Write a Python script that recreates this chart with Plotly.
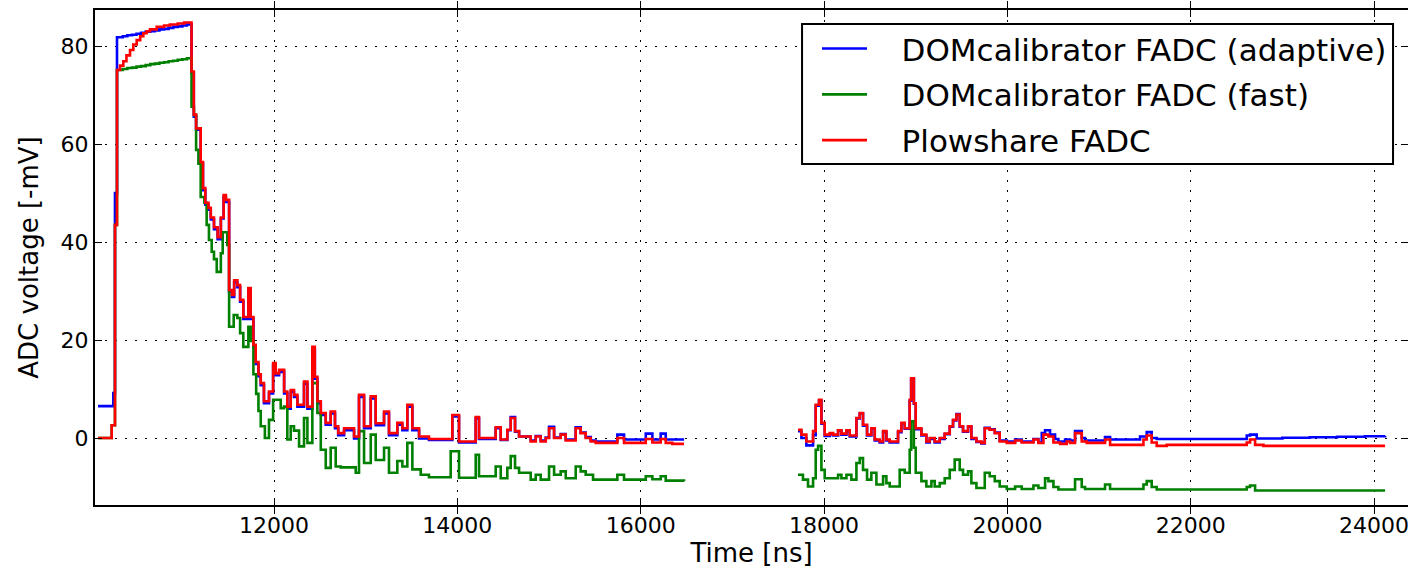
import plotly.graph_objects as go

# ---------------- data (Time [ns], ADC voltage [-mV]) ----------------
# Plowshare FADC, first readout window
RED1_T = [10080, 10229, 10265, 10287, 10320, 10356, 10390, 10429, 10465, 10502, 10540, 10574, 10610, 10647,
          10720, 10800, 10865, 10950, 11020, 11100, 11125, 11150, 11200, 11225, 11250, 11285, 11310, 11345,
          11385, 11420, 11450, 11475, 11510, 11540, 11565, 11600, 11630, 11665, 11720, 11745, 11775, 11800,
          11830, 11855, 11890, 11945, 11990, 12018, 12055, 12110, 12145, 12182, 12218, 12255, 12327, 12364,
          12418, 12445, 12473, 12510, 12564, 12618, 12665, 12700, 12764, 12873, 12927, 12982, 13055, 13109,
          13200, 13254, 13345, 13400, 13454, 13509, 13582, 13690, 13945, 14018, 14200, 14236, 14418, 14473,
          14545, 14582, 14629, 14673, 14800, 14855, 14909, 14964, 15000, 15055, 15127, 15182, 15291, 15345,
          15400, 15455, 15509, 15745, 15818, 16055, 16127, 16218, 16273, 16345, 16473]
RED1_V = [0.0, 2.6, 43.5, 75.1, 76.0, 76.9, 78.1, 79.2, 80.3, 81.2, 82.0, 82.6, 83.0, 83.4,
          83.9, 84.2, 84.4, 84.6, 84.8, 74.8, 66.0, 63.2, 56.3, 51.0, 48.0, 47.0, 45.0, 43.0,
          41.0, 45.0, 49.6, 48.6, 30.2, 29.2, 32.2, 31.2, 28.2, 24.7, 30.6, 24.7, 19.0, 15.5,
          13.0, 11.2, 7.5, 9.5, 15.3, 13.2, 13.9, 9.5, 6.4, 9.8, 8.8, 6.8, 11.5, 6.4,
          18.6, 12.5, 7.5, 5.1, 3.1, 5.4, 2.4, 1.0, 2.0, 0.3, 8.8, 2.4, 8.5, 3.0,
          5.4, 1.0, 3.1, 2.0, 6.8, 2.0, 0.3, -0.2, 4.7, -0.7, 4.3, 0.0, 2.2, -0.3,
          1.7, 4.1, 1.4, 0.3, -0.7, 0.3, -0.7, 0.0, 2.0, 0.0, 0.7, -0.5, 2.0, 1.0,
          0.0, -0.7, -1.0, 0.0, -1.0, -0.2, -0.9, -0.2, -1.0, -1.2, -1.2]

# Plowshare FADC, second readout window
RED2_T = [17716, 17753, 17807, 17880, 17909, 17945, 17971, 18007, 18062, 18098, 18153, 18189, 18244, 18280,
          18353, 18389, 18425, 18469, 18516, 18553, 18607, 18644, 18680, 18716, 18807, 18844, 18880, 18934,
          18950, 18980, 19000, 19062, 19116, 19153, 19207, 19262, 19316, 19371, 19407, 19444, 19480, 19516,
          19571, 19607, 19662, 19716, 19753, 19807, 19862, 19916, 19993, 20084, 20156, 20284, 20338, 20393,
          20447, 20502, 20575, 20647, 20684, 20738, 20811, 20865, 21065, 21120, 21484, 21520, 21574, 21629,
          21738, 22611, 22647, 22702, 22793, 24120]
RED2_V = [1.7, 0.7, -0.7, 1.4, 6.8, 7.8, 3.1, 0.7, 1.0, 0.7, 1.6, 0.9, 1.6, 0.5,
          4.1, 5.1, 2.7, 0.7, 2.0, -0.3, -0.7, 1.4, -0.3, -0.7, 1.4, 3.1, 2.0, 7.8,
          12.2, 7.1, 2.0, 0.7, -0.7, 0.0, -0.7, 0.0, 0.9, 2.4, 3.7, 4.8, 2.4, 1.4,
          2.4, 0.0, -0.7, -1.0, 2.0, 1.7, 1.0, -0.7, -1.0, -0.5, -0.9, -0.3, -1.0, 0.7,
          0.3, -0.9, -1.2, -0.7, -1.0, 1.0, -0.7, -1.0, -0.3, -1.4, -0.3, 0.5, -0.9, -1.6,
          -1.4, -0.9, -0.3, -1.4, -1.6, -1.6]

# DOMcalibrator FADC (adaptive)
BLUE1_T = [10080, 10247, 10265, 10287, 10350, 10400, 10450, 10500, 10550, 10600, 10650, 10700, 10750, 10800,
           10850, 10900, 10950, 11000, 11050,
           11100, 11125, 11150, 11200, 11225, 11250, 11285, 11310, 11345,
           11385, 11420, 11450, 11475, 11510, 11540, 11565, 11600, 11630, 11665, 11720, 11745, 11775, 11800,
           11830, 11855, 11890, 11945, 11990, 12018, 12055, 12110, 12145, 12182, 12218, 12255, 12327, 12364,
           12418, 12445, 12473, 12510, 12564, 12618, 12665, 12700, 12764, 12873, 12927, 12982, 13055, 13109,
           13200, 13254, 13345, 13400, 13454, 13509, 13582, 13690, 13945, 14018, 14200, 14236, 14418, 14473,
           14545, 14582, 14629, 14673, 14800, 14855, 14909, 14964, 15000, 15055, 15127, 15182, 15291, 15345,
           15400, 15455, 15509, 15745, 15818, 16055, 16127, 16218, 16273, 16345, 16473]
BLUE1_V = [6.5, 9.2, 50.0, 81.8, 82.0, 82.2, 82.3, 82.5, 82.7, 82.9, 83.0, 83.2, 83.4, 83.5,
           83.7, 83.9, 84.0, 84.2, 84.4,
           74.6, 65.6, 62.9, 56.0, 50.6, 47.6, 46.6, 44.6, 42.6,
           40.6, 44.8, 49.2, 48.2, 29.8, 28.8, 31.8, 30.8, 27.8, 24.3, 30.2, 24.3, 18.6, 15.1,
           12.6, 10.8, 7.1, 9.1, 14.9, 12.8, 13.5, 9.1, 6.0, 9.4, 8.4, 6.4, 11.1, 6.0,
           18.0, 12.1, 7.1, 4.7, 2.7, 5.0, 2.0, 0.6, 1.6, -0.1, 8.4, 2.0, 8.1, 2.6,
           5.0, 0.6, 2.7, 1.6, 6.4, 1.6, -0.1, -0.4, 4.4, -0.9, 4.0, -0.2, 2.0, -0.4,
           1.6, 4.3, 1.3, 0.3, -0.5, 0.4, -0.5, 0.1, 2.3, 0.1, 0.8, -0.3, 2.2, 1.1,
           0.2, -0.5, -0.7, 0.7, -0.3, 0.9, -0.3, 0.9, -0.3, -0.3, -0.3]

BLUE2_T = [17716, 17753, 17807, 17880, 17909, 17945, 17971, 18007, 18062, 18098, 18153, 18189, 18244, 18280,
           18353, 18389, 18425, 18469, 18516, 18553, 18607, 18644, 18680, 18716, 18807, 18844, 18880, 18934,
           18950, 18980, 19000, 19062, 19116, 19153, 19207, 19262, 19316, 19371, 19407, 19444, 19480, 19516,
           19571, 19607, 19662, 19716, 19753, 19807, 19862, 19916, 19993, 20084, 20156, 20284, 20338, 20375,
           20411, 20465, 20520, 20556, 20629, 20684, 20738, 20811, 20847, 21065, 21120, 21447, 21520, 21574,
           21629, 22611, 22647, 22720, 23000, 23300, 23600, 23900, 24120]
BLUE2_V = [1.4, 0.0, -1.5, 0.6, 6.6, 7.6, 2.9, 0.4, 0.8, 0.5, 1.5, 0.7, 1.4, 0.3,
           4.0, 5.0, 2.5, 0.5, 1.9, -0.5, -0.9, 1.2, -0.5, -0.9, 1.2, 3.0, 1.9, 7.6,
           12.0, 7.0, 1.8, 0.5, -0.9, -0.2, -0.9, -0.2, 0.8, 2.3, 3.6, 4.9, 2.3, 1.3,
           2.3, -0.2, -0.8, -1.1, 2.1, 1.8, 1.1, -0.5, -0.7, -0.3, -0.7, -0.2, -0.9, 1.0,
           1.6, 0.7, -0.2, -0.7, -0.3, -0.5, 1.4, 0.0, -0.5, 0.2, -0.3, 0.3, 1.2, 0.0,
           -0.2, 0.5, 0.7, -0.1, 0.05, 0.15, 0.25, 0.35, 0.45]

# DOMcalibrator FADC (fast)
GREEN1_T = [10080, 10229, 10265, 10287, 10350, 10400, 10450, 10500, 10550, 10600, 10650, 10700, 10750, 10800,
            10850, 10900, 10950, 11000, 11050,
            11100, 11127, 11150, 11175, 11200, 11240, 11265, 11290, 11320, 11345, 11375, 11420, 11440, 11490,
            11510, 11560, 11600, 11630, 11665, 11720, 11745, 11775, 11805, 11830, 11855, 11900, 11945, 11990,
            12073, 12110, 12145, 12182, 12218, 12273, 12327, 12364, 12418, 12473, 12510, 12564, 12618, 12673,
            12727, 12891, 12927, 12982, 13055, 13109, 13200, 13254, 13345, 13400, 13454, 13509, 13600, 13690,
            13927, 14018, 14200, 14236, 14418, 14473, 14545, 14582, 14629, 14673, 14800, 14855, 14909, 15000,
            15055, 15127, 15182, 15291, 15345, 15400, 15480, 15745, 15818, 16055, 16127, 16218, 16273, 16473]
GREEN1_V = [0.0, 2.6, 43.5, 75.1, 75.3, 75.5, 75.6, 75.8, 75.9, 76.1, 76.3, 76.4, 76.6, 76.7,
            76.9, 77.0, 77.2, 77.3, 77.5,
            67.6, 65.9, 58.8, 56.0, 49.2, 48.0, 43.5, 40.4, 38.0, 36.5, 33.9, 37.7, 42.0, 39.4,
            22.7, 25.1, 24.5, 21.4, 18.6, 22.7, 19.8, 13.0, 9.0, 5.5, 2.4, 0.0, 3.7, 7.8,
            6.1, 6.4, -0.3, 2.4, 1.5, -1.7, 4.1, -1.0, 11.2, 5.1, -2.4, -6.1, -2.0, -5.8,
            -6.0, -7.1, 1.4, -5.1, 0.7, -4.5, -2.0, -7.1, -4.7, -5.8, -1.0, -6.4, -7.5, -8.0,
            -2.7, -8.1, -3.4, -7.8, -5.8, -8.2, -6.1, -3.7, -6.1, -7.1, -8.5, -7.5, -8.5, -5.8,
            -7.5, -6.8, -8.2, -5.8, -6.8, -7.5, -8.5, -7.5, -8.5, -7.8, -8.4, -7.8, -8.7, -8.8]

GREEN2_T = [17716, 17770, 17825, 17880, 17909, 17935, 17971, 18007, 18153, 18189, 18244, 18298, 18353, 18389,
            18425, 18469, 18516, 18571, 18644, 18680, 18716, 18825, 18880, 18934, 18950, 18980, 19000, 19062,
            19116, 19171, 19207, 19262, 19316, 19371, 19425, 19480, 19516, 19571, 19607, 19662, 19753, 19807,
            19862, 19916, 19993, 20084, 20156, 20284, 20338, 20411, 20447, 20502, 20556, 20738, 20811, 20847,
            21065, 21120, 21484, 21520, 21574, 21629, 22611, 22647, 22702, 24120]
GREEN2_V = [-7.5, -8.5, -9.9, -8.2, -2.4, -1.6, -6.5, -8.2, -7.5, -8.2, -7.5, -8.5, -5.1, -4.1,
            -6.5, -8.5, -7.1, -9.5, -7.8, -9.2, -9.9, -6.5, -7.1, -2.4, 3.4, -2.0, -7.1, -8.8,
            -9.9, -8.8, -9.9, -9.2, -8.2, -6.5, -4.4, -6.5, -7.5, -6.8, -9.2, -10.2, -7.1, -7.8,
            -8.8, -9.9, -10.4, -9.9, -10.4, -9.7, -10.2, -8.2, -8.8, -10.0, -10.5, -8.4, -10.0, -10.4,
            -9.5, -10.4, -9.5, -8.8, -10.0, -10.5, -10.0, -9.7, -10.7, -10.7]

SERIES_NAMES = ["DOMcalibrator FADC (adaptive)", "DOMcalibrator FADC (fast)", "Plowshare FADC"]
X_TICKS = [12000, 14000, 16000, 18000, 20000, 22000, 24000]
Y_TICKS = [0, 20, 40, 60, 80]

for a, b in [(RED1_T, RED1_V), (RED2_T, RED2_V), (BLUE1_T, BLUE1_V), (BLUE2_T, BLUE2_V),
             (GREEN1_T, GREEN1_V), (GREEN2_T, GREEN2_V)]:
    assert len(a) == len(b), (len(a), len(b))


def joined(t1, v1, t2, v2):
    return list(t1) + [None] + list(t2), list(v1) + [None] + list(v2)


FONT = "DejaVu Sans"
Y_RANGE = [-13.67, 87.35]
fig = go.Figure()
for i, (name, color, (t1, v1, t2, v2)) in enumerate([
    (SERIES_NAMES[0], "#0000ff", (BLUE1_T, BLUE1_V, BLUE2_T, BLUE2_V)),
    (SERIES_NAMES[1], "#008000", (GREEN1_T, GREEN1_V, GREEN2_T, GREEN2_V)),
    (SERIES_NAMES[2], "#ff0000", (RED1_T, RED1_V, RED2_T, RED2_V)),
]):
    xs, ys = joined(t1, v1, t2, v2)
    fig.add_trace(go.Scatter(x=xs, y=ys, mode="lines", name="\u00a0\u00a0\u00a0" + name,
                             legendgroup="g%d" % i,
                             line=dict(color=color, width=2.6, shape="hv"),
                             connectgaps=False))

# empty helper trace so the right-hand tick axis is drawn
fig.add_trace(go.Scatter(x=[], y=[], yaxis="y2", showlegend=False, hoverinfo="skip"))

tick_common = dict(ticks="inside", ticklen=7, tickwidth=1, tickcolor="black",
                   zeroline=False, tickfont=dict(family=FONT, size=22, color="black"))
grid_common = dict(showgrid=True, gridcolor="black", gridwidth=1, griddash="2px,8px")

# legend frame (matplotlib style box)
LEG_X0, LEG_X1, LEG_Y0, LEG_Y1 = 0.5385, 0.9886, 0.6889, 0.9717
fig.add_shape(type="rect", xref="paper", yref="paper", x0=LEG_X0, x1=LEG_X1, y0=LEG_Y0, y1=LEG_Y1,
              line=dict(color="black", width=2), fillcolor="white", layer="above")

fig.update_layout(
    width=1408, height=570,
    margin=dict(l=95, r=0, t=10, b=65),
    paper_bgcolor="white", plot_bgcolor="white",
    font=dict(family=FONT, color="black"),
    showlegend=True,
    legend=dict(x=0.5499, y=0.9760, xanchor="left", yanchor="top",
                bgcolor="rgba(0,0,0,0)", borderwidth=0,
                font=dict(family=FONT, size=31, color="black"),
                itemwidth=45, tracegroupgap=2.5),
    xaxis=dict(range=[10047, 24370], tickvals=X_TICKS, ticktext=[str(v) for v in X_TICKS],
               showline=True, linecolor="black", linewidth=2, mirror="allticks",
               ticklabeloverflow="allow",
               title=dict(text="Time [ns]", font=dict(family=FONT, size=26, color="black"), standoff=2),
               **tick_common, **grid_common),
    yaxis=dict(range=Y_RANGE, tickvals=Y_TICKS, ticktext=[str(v) for v in Y_TICKS],
               showline=True, linecolor="black", linewidth=2, mirror=False,
               title=dict(text="ADC voltage [-mV]", font=dict(family=FONT, size=26, color="black"), standoff=14),
               **tick_common, **grid_common),
    yaxis2=dict(range=Y_RANGE, tickvals=Y_TICKS, overlaying="y", side="right", showline=False,
                showticklabels=False, showgrid=False, **tick_common),
)

fig.write_html("out.html")
